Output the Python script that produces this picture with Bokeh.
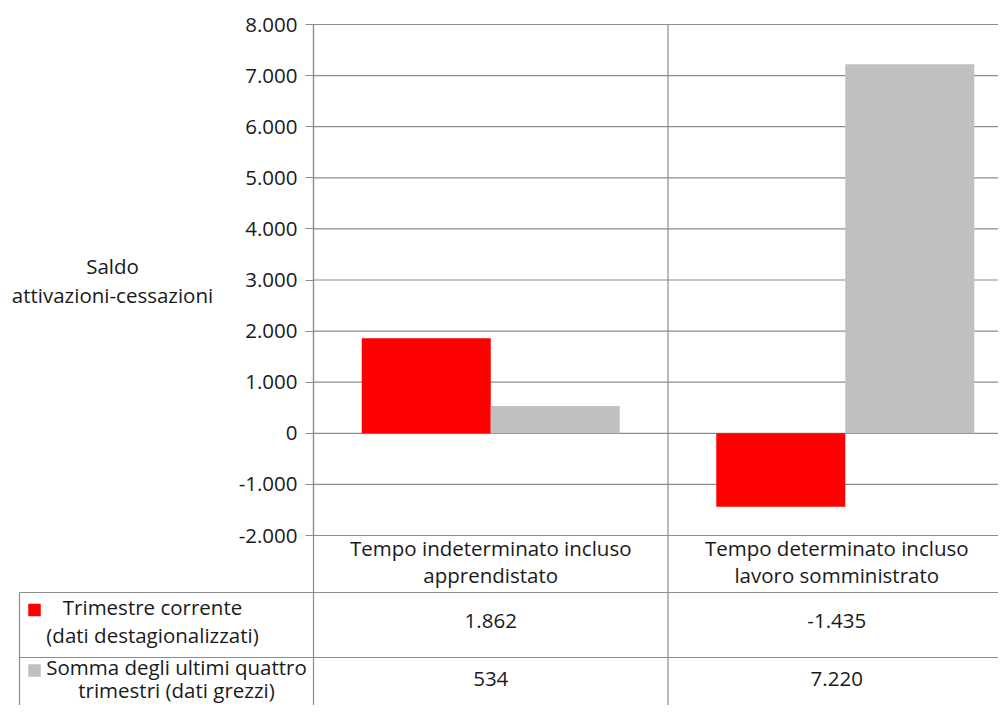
from bokeh.plotting import figure
from bokeh.models import Range1d, LinearAxis, FixedTicker
from bokeh.core.properties import value
from bokeh.embed import file_html
from bokeh.resources import INLINE

# ---------------- data ----------------
category_lines = [
    ["Tempo indeterminato incluso", "apprendistato"],
    ["Tempo determinato incluso", "lavoro somministrato"],
]
trimestre_corrente = [1862, -1435]
somma_ultimi_quattro = [534, 7220]
series_lines = [
    ["Trimestre corrente", "(dati destagionalizzati)"],
    ["Somma degli ultimi quattro", "trimestri (dati grezzi)"],
]
series_colors = ["#FF0000", "#C0C0C0"]
y_ticks = [-2000, -1000, 0, 1000, 2000, 3000, 4000, 5000, 6000, 7000, 8000]
y_tick_labels = ["-2.000", "-1.000", "0", "1.000", "2.000", "3.000",
                 "4.000", "5.000", "6.000", "7.000", "8.000"]
y_title_lines = ["Saldo", "attivazioni-cessazioni"]

# ---------------- layout (canvas pixels -> data) ----------------
W, H = 998, 705
X0_PX = 313.0      # x of category 0 left edge
CAT_PX = 354.5     # pixels per category
Y0_PX = 432.8      # y of value 0
PX_PER_UNIT = 0.0511
TY = -3            # visual centring correction for text


def dx(px):
    return (px - X0_PX) / CAT_PX


def dy(py):
    return (Y0_PX - py) / PX_PER_UNIT


def ty(py):
    return dy(py + TY)


FONT = value("Open Sans")
FSIZE = value("20.5px")
TXT = "#1a1a1a"
LINE = "#8c8c8c"

p = figure(width=W, height=H, output_backend="svg", toolbar_location=None,
           x_range=Range1d(dx(0), dx(W)), y_range=Range1d(dy(H), dy(0)),
           x_axis_type=None, y_axis_type=None, min_border=0,
           outline_line_color=None, background_fill_color="white",
           border_fill_color="white")

x_right = dx(1005)
y_top = max(y_ticks)
y_bot = min(y_ticks)

# horizontal gridlines
n = len(y_ticks)
p.segment(x0=[0] * n, x1=[x_right] * n, y0=y_ticks, y1=y_ticks,
          line_color=LINE, line_width=1.2)

# bars
bw = 129 / CAT_PX
ncat = len(category_lines)
p.vbar(x=[i + 0.5 - bw / 2 for i in range(ncat)], top=trimestre_corrente,
       bottom=0, width=bw, fill_color=series_colors[0], line_color=None)
p.vbar(x=[i + 0.5 + bw / 2 for i in range(ncat)], top=somma_ultimi_quattro,
       bottom=0, width=bw, fill_color=series_colors[1], line_color=None)

# table / vertical lines
row_y = [dy(592), dy(657)]
p.segment(x0=[dx(19)] * 2, x1=[x_right] * 2, y0=row_y, y1=row_y,
          line_color=LINE, line_width=1.2)
p.segment(x0=[0, 1, dx(19)], x1=[0, 1, dx(19)],
          y0=[y_top, y_top, dy(592)], y1=[dy(H + 10)] * 3,
          line_color=LINE, line_width=1.2)

# y axis
yax = LinearAxis(fixed_location=0, ticker=FixedTicker(ticks=y_ticks),
                 bounds=(y_bot, y_top),
                 major_label_overrides={t: l for t, l in zip(y_ticks, y_tick_labels)},
                 axis_line_color=LINE, axis_line_width=1.2,
                 major_tick_line_color=LINE, major_tick_line_width=1.2,
                 major_tick_out=8, major_tick_in=0,
                 minor_tick_out=0, minor_tick_in=0,
                 major_label_standoff=8,
                 major_label_text_font="Open Sans",
                 major_label_text_font_size="20.5px",
                 major_label_text_color=TXT)
p.add_layout(yax, "left")

# y title
p.text(x=[dx(112)] * 2, y=[ty(268), ty(297)], text=y_title_lines,
       text_font=FONT, text_font_size=FSIZE, text_color=TXT,
       text_align="center", text_baseline="middle")

# category labels (cell centres, clipped at the right edge)
cx, cy, ct = [], [], []
for i, lines in enumerate(category_lines):
    c = (i + min(i + 1, x_right)) / 2
    for j, t in enumerate(lines):
        cx.append(c)
        cy.append(ty(550 + 27 * j))
        ct.append(t)
p.text(x=cx, y=cy, text=ct, text_font=FONT, text_font_size=FSIZE,
       text_color=TXT, text_align="center", text_baseline="middle")

# series rows: keys, names, values
value_y_px = [623, 681]
name_y_px = [[609, 637], [669, 692]]
name_cx_px = [152, 176]
vx, vy, vt = [], [], []
nx, ny, nt = [], [], []
for r, (vals, lines) in enumerate(zip([trimestre_corrente, somma_ultimi_quattro], series_lines)):
    for i, v in enumerate(vals):
        vx.append((i + min(i + 1, x_right)) / 2)
        vy.append(ty(value_y_px[r]))
        vt.append(f"{v:,}".replace(",", "."))
    for j, t in enumerate(lines):
        nx.append(dx(name_cx_px[r]))
        ny.append(ty(name_y_px[r][j]))
        nt.append(t)
p.text(x=vx, y=vy, text=vt, text_font=FONT, text_font_size=FSIZE,
       text_color=TXT, text_align="center", text_baseline="middle")
p.text(x=nx, y=ny, text=nt, text_font=FONT, text_font_size=FSIZE,
       text_color=TXT, text_align="center", text_baseline="middle")

key = 12.5
p.rect(x=[dx(34)] * 2, y=[dy(609.5), dy(670)], width=key / CAT_PX,
       height=key / PX_PER_UNIT, fill_color=series_colors, line_color=None)

open("out.html", "w").write(file_html(p, INLINE))
